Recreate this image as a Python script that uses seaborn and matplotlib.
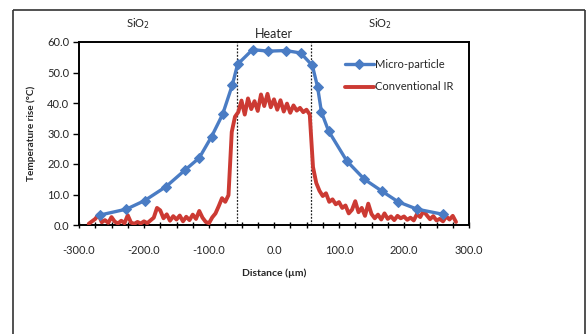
import matplotlib
matplotlib.use("Agg")
import matplotlib.pyplot as plt
import seaborn as sns
import numpy as np
import pandas as pd
from matplotlib.ticker import MultipleLocator
from matplotlib.lines import Line2D

# ---- data ----
mp_dist = [-267, -227, -199, -166, -137, -115, -96, -79, -64, -56, -33, -9,
           18, 41, 59, 67, 73, 84, 112, 139, 166, 191, 220, 260]
mp_temp = [3.3, 5.2, 8.0, 12.6, 18.0, 22.0, 29.0, 36.3, 46.0, 52.7, 57.5, 57.0,
           57.2, 56.4, 52.3, 45.3, 37.0, 30.8, 21.0, 15.0, 11.1, 7.6, 5.2, 3.5]

ir_dist = [-285, -280, -275, -270, -265, -260, -255, -250, -245, -240,
           -235, -230, -225, -220, -215, -210, -205, -200, -195, -190,
           -185, -180, -175, -170, -165, -160, -155, -150, -145, -140,
           -135, -130, -125, -120, -115, -110, -105, -100, -95, -90,
           -85, -80, -75, -70, -65, -60, -55, -50, -45, -40,
           -35, -30, -25, -20, -15, -10, -5, 0, 5, 10,
           15, 20, 25, 30, 35, 40, 45, 50, 55, 60,
           65, 70, 75, 80, 85, 90, 95, 100, 105, 110,
           115, 120, 125, 130, 135, 140, 145, 150, 155, 160,
           165, 170, 175, 180, 185, 190, 195, 200, 205, 210,
           215, 220, 225, 230, 235, 240, 245, 250, 255, 260,
           265, 270, 275, 280]
ir_temp = [0.4, 1.2, 2.0, 3.4, 0.9, 1.6, 0.7, 2.6, 1.1, 0.5,
           1.4, 0.6, 3.2, 0.8, 0.4, 1.0, 0.5, 1.2, 0.6, 1.5,
           2.4, 5.6, 4.8, 2.2, 3.5, 1.4, 2.9, 1.8, 3.1, 1.2,
           2.7, 1.6, 3.4, 2.0, 4.6, 2.4, 1.0, 0.6, 2.5, 3.8,
           6.2, 8.8, 7.6, 9.8, 30.5, 35.5, 37.0, 40.8, 36.2, 41.5,
           38.0, 40.6, 37.4, 42.8, 39.0, 43.0, 38.6, 41.2, 37.8, 40.9,
           37.2, 39.8, 36.8, 39.2, 37.5, 38.4, 37.0, 37.8, 36.2, 19.0,
           13.8, 11.2, 9.5, 10.4, 7.6, 8.4, 6.8, 7.5, 5.6, 6.4,
           3.8, 5.0, 7.8, 4.2, 5.6, 3.0, 7.0, 3.6, 2.2, 3.4,
           1.8, 3.8, 2.0, 2.8, 1.6, 3.0, 2.2, 2.8, 1.7, 2.4,
           1.5, 3.6, 2.6, 4.6, 3.2, 1.9, 2.9, 1.5, 2.0, 1.2,
           2.8, 1.8, 3.0, 1.0]

heater_edges = [-57, 57]
region_labels = ["SiO$_2$", "Heater", "SiO$_2$"]
x_ticks = [-300, -200, -100, 0, 100, 200, 300]
y_ticks = [0, 10, 20, 30, 40, 50, 60]

df_mp = pd.DataFrame({"Distance": mp_dist, "Temp": mp_temp})
df_ir = pd.DataFrame({"Distance": ir_dist, "Temp": ir_temp})

sns.set_theme(style="white")
plt.rcParams["font.family"] = ["Lato", "DejaVu Sans"]

fig = plt.figure(figsize=(5.88, 3.34), dpi=100)
ax = fig.add_axes([79 / 588, 1 - 225 / 334, 390 / 588, 183 / 334])

blue = "#4a7cc4"
red = "#cc3a33"

sns.lineplot(data=df_ir, x="Distance", y="Temp", ax=ax, color=red, lw=2.8,
             label="Conventional IR", zorder=3)
sns.lineplot(data=df_mp, x="Distance", y="Temp", ax=ax, color=blue, lw=2.4,
             marker="D", markersize=5.5, markeredgecolor=blue,
             label="Micro-particle", zorder=4)

for xe in heater_edges:
    ax.axvline(xe, color="#222222", lw=0.9, ls=(0, (1.5, 1.2)), zorder=2)

ax.set_xlim(-300, 300)
ax.set_ylim(0, 60)
ax.set_xticks(x_ticks)
ax.set_xticklabels([f"{v:.1f}" for v in x_ticks])
ax.xaxis.set_minor_locator(MultipleLocator(25))
ax.set_yticks(y_ticks)
ax.set_yticklabels([f"{v:.1f}" for v in y_ticks])
ax.tick_params(axis="x", which="both", direction="inout", length=5, width=1,
               color="black", labelsize=8, pad=12)
ax.tick_params(axis="y", which="major", direction="out", length=4, width=1,
               color="black", labelsize=8, pad=3)
ax.tick_params(left=True, bottom=True)
ax.tick_params(axis="x", which="minor", bottom=True)
for sp in ax.spines.values():
    sp.set_color("black")
    sp.set_linewidth(1.4)

ax.set_xlabel("Distance (µm)", fontsize=7.5, fontweight="bold", labelpad=9)
ax.set_ylabel("Temperature rise (°C)", fontsize=7.2, fontweight="bold", labelpad=8)

handles, labels = ax.get_legend_handles_labels()
order = [labels.index("Micro-particle"), labels.index("Conventional IR")]
leg = ax.legend([handles[i] for i in order], [labels[i] for i in order],
                loc="upper right", bbox_to_anchor=(0.985, 0.96), frameon=False,
                fontsize=8, handlelength=2.6, handletextpad=0.1,
                labelspacing=1.0)

ax.text(-210, 63.5, region_labels[0], ha="center", va="bottom", fontsize=8)
ax.text(0, 60.8, region_labels[1], ha="center", va="bottom", fontsize=9)
ax.text(163, 63.5, region_labels[2], ha="center", va="bottom", fontsize=8)

# outer frame: left, top and right edges only
xl, xr, yt, yb = 12.5 / 588, 584.5 / 588, 1 - 9.5 / 334, 0.5 / 334
for xs, ys in [([xl, xl], [yb, yt]), ([xl, xr], [yt, yt]), ([xr, xr], [yt, yb])]:
    fig.add_artist(Line2D(xs, ys, transform=fig.transFigure,
                          color="#333333", lw=1.2, solid_capstyle="butt"))

fig.savefig("out.png", dpi=100)
